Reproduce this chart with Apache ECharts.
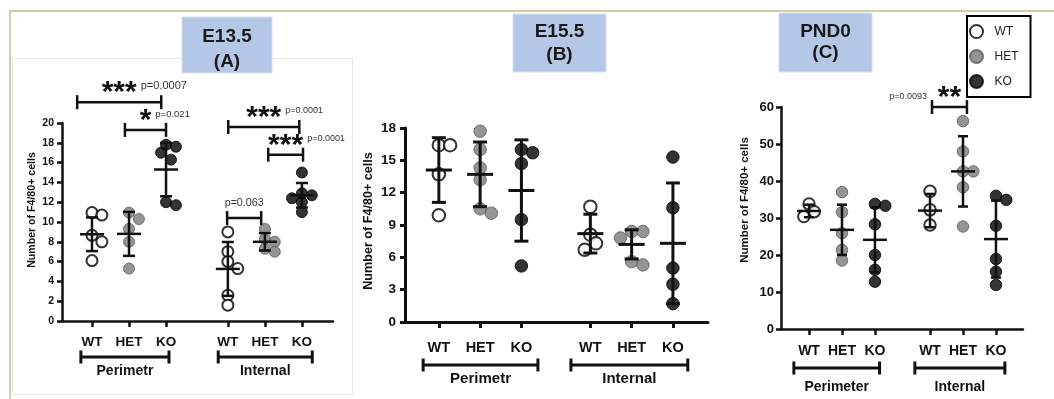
<!DOCTYPE html>
<html>
<head>
<meta charset="utf-8">
<title>F4/80+ cell counts</title>
<script src="https://cdn.jsdelivr.net/npm/echarts@6/dist/echarts.min.js"></script>
<style>
  html, body { margin: 0; padding: 0; background: #fff; }
  #chart { width: 1054px; height: 399px; }
</style>
</head>
<body>
<div id="chart"></div>
<script>
// Column positions: Perimeter WT/HET/KO, then Internal WT/HET/KO
const positions = [1, 2, 3, 4.67, 5.67, 6.67];
const genotypes = ['WT', 'HET', 'KO'];

// ---- E13.5 (A) ----
const e135Values = [
  [10.95, 10.7, 8.65, 8.0, 6.1],
  [10.95, 10.3, 9.3, 8.0, 5.3],
  [17.8, 17.6, 17.0, 16.3, 12.0, 11.7],
  [9.0, 7.0, 6.0, 5.3, 2.6, 1.6],
  [9.3, 8.3, 8.0, 7.3, 7.0],
  [15.0, 12.9, 12.7, 12.4, 12.0, 11.0]
];
const e135Mean = [8.76, 8.8, 15.3, 5.26, 8.0, 12.7];
const e135Sd = [1.7, 2.22, 2.7, 2.72, 0.88, 1.24];
const e135YTicks = [0, 2, 4, 6, 8, 10, 12, 14, 16, 18, 20];
const e135Regions = ['Perimetr', 'Internal'];
const e135RegionSpans = [[0.70, 3.08], [4.41, 6.95]];
const e135Brackets = [[0.6, 2.87, 22.1], [1.89, 3.0, 19.3], [4.68, 6.6, 19.6], [5.76, 6.7, 16.8], [4.65, 5.57, 10.4]];
const e135Stars = ['***', '*', '***', '***', ''];
const e135PValues = ['p=0.0007', 'p=0.021', 'p=0.0001', 'p=0.0001', 'p=0.063'];

// ---- E15.5 (B) ----
const e155Values = [
  [16.4, 16.4, 13.7, 9.9],
  [17.7, 16.0, 14.3, 13.2, 10.5, 10.1],
  [16.0, 15.7, 14.7, 9.5, 5.2],
  [10.7, 8.1, 7.3, 6.7],
  [8.4, 8.4, 7.8, 5.6, 5.3],
  [15.3, 10.6, 5.0, 3.5, 1.7]
];
const e155Mean = [14.1, 13.7, 12.2, 8.2, 7.2, 7.3];
const e155Sd = [3.0, 3.0, 4.7, 1.8, 1.35, 5.6];
const e155YTicks = [0, 3, 6, 9, 12, 15, 18];
const e155Regions = ['Perimetr', 'Internal'];
const e155RegionSpans = [[0.62, 3.40], [4.20, 7.03]];
const e155Brackets = [];
const e155Stars = [];
const e155PValues = [];

// ---- PND0 (C) ----
const pnd0Values = [
  [33.8, 31.7, 30.4],
  [37.0, 31.6, 25.9, 21.4, 18.5],
  [33.8, 33.3, 28.3, 20.0, 16.0, 12.8],
  [37.2, 32.2, 28.1],
  [56.2, 48.0, 42.6, 42.6, 38.3, 27.7],
  [36.0, 34.9, 27.9, 18.9, 15.5, 11.9]
];
const pnd0Mean = [31.9, 26.8, 24.1, 32.0, 42.6, 24.3];
const pnd0Sd = [1.7, 6.8, 8.8, 4.5, 9.5, 10.4];
const pnd0YTicks = [0, 10, 20, 30, 40, 50, 60];
const pnd0Regions = ['Perimeter', 'Internal'];
const pnd0RegionSpans = [[0.54, 3.14], [4.21, 6.94]];
const pnd0Brackets = [[4.73, 5.79, 60]];
const pnd0Stars = ['**'];
const pnd0PValues = ['p=0.0093'];

const FONT = '"Liberation Sans", Arial, Helvetica, sans-serif';
const INK = '#111';

const panels = [
  {
    title: 'E13.5\n(A)', box: [182, 17, 90, 56], titleY: 49.5, titleLH: 25,
    grid: { left: 62, top: 123, width: 271, height: 198 }, xMin: 0.19, xMax: 7.51,
    values: e135Values, mean: e135Mean, sd: e135Sd, yTicks: e135YTicks,
    regions: e135Regions, spans: e135RegionSpans,
    brackets: e135Brackets, stars: e135Stars, pvalues: e135PValues,
    look: { tickFont: 10.5, tickMargin: 8, catFont: 13.5, catMargin: 14, groupFont: 14,
            nameFont: 10.6, nameGap: 24, namePad: 24, sym: 11, lw: 2.5, cap: 6, bar: 12,
            bracketOff: 36, labelOff: 50, pFonts: [11, 9.5, 9, 9, 10.7], pSide: 'right' }
  },
  {
    title: 'E15.5\n(B)', box: [513, 14, 93, 58], titleY: 43.5, titleLH: 23,
    grid: { left: 405, top: 128, width: 303, height: 194 }, xMin: 0.18, xMax: 7.52,
    values: e155Values, mean: e155Mean, sd: e155Sd, yTicks: e155YTicks,
    regions: e155Regions, spans: e155RegionSpans,
    brackets: e155Brackets, stars: e155Stars, pvalues: e155PValues,
    look: { tickFont: 13.5, tickMargin: 9, catFont: 14.5, catMargin: 18, groupFont: 15,
            nameFont: 12.6, nameGap: 30, namePad: 8, sym: 12.5, lw: 3, cap: 7, bar: 13,
            bracketOff: 43, labelOff: 57, pFonts: [], pSide: 'right' }
  },
  {
    title: 'PND0\n(C)', box: [779, 13, 93, 59], titleY: 42.5, titleLH: 21,
    grid: { left: 781, top: 107, width: 242, height: 222 }, xMin: 0.15, xMax: 7.49,
    values: pnd0Values, mean: pnd0Mean, sd: pnd0Sd, yTicks: pnd0YTicks,
    regions: pnd0Regions, spans: pnd0RegionSpans,
    brackets: pnd0Brackets, stars: pnd0Stars, pvalues: pnd0PValues,
    look: { tickFont: 13, tickMargin: 7, catFont: 14, catMargin: 15, groupFont: 14,
            nameFont: 11.5, nameGap: 30, namePad: 36, sym: 11.5, lw: 2.5, cap: 5, bar: 12,
            bracketOff: 39, labelOff: 58, pFonts: [9], pSide: 'left' }
  }
];

const markerStyles = [
  { color: '#ffffff', borderColor: '#000000', borderWidth: 2 },
  { color: '#7a7a7a', borderColor: '#5a5a5a', borderWidth: 1 },
  { color: '#000000', borderColor: '#000000', borderWidth: 1 }
];

// Spread points sideways so overlapping values stay visible (simple beeswarm, pixels)
function swarmOffsets(vals, pxPerY, diam) {
  const order = vals.map((v, i) => i).sort((a, b) => vals[b] - vals[a]);
  const placed = [];
  const out = new Array(vals.length).fill(0);
  const step = diam * 0.45, minDist = diam * 0.78;
  order.forEach(i => {
    const y = vals[i] * pxPerY;
    for (let k = 0; k < 30; k++) {
      const dx = k === 0 ? 0 : (k % 2 ? 1 : -1) * Math.ceil(k / 2) * step;
      if (placed.every(p => Math.hypot(p.x - dx, p.y - y) >= minDist)) {
        out[i] = dx; placed.push({ x: dx, y }); break;
      }
    }
  });
  return out;
}

function seg(x1, y1, x2, y2, lw) {
  return { type: 'line', shape: { x1, y1, x2, y2 }, style: { stroke: INK, lineWidth: lw } };
}

const grids = [], xAxes = [], yAxes = [], series = [], graphics = [];

// page frame and panel outline
graphics.push({ type: 'rect', shape: { x: 10, y: 11, width: 1200, height: 600 },
  style: { fill: null, stroke: '#d2cda2', lineWidth: 2 }, z: 0 });
graphics.push({ type: 'rect', shape: { x: 12.5, y: 58.5, width: 340, height: 336 },
  style: { fill: null, stroke: '#e6e6e6', lineWidth: 1 }, z: 0 });

panels.forEach((p, pi) => {
  const L = p.look;
  grids.push(Object.assign({ containLabel: false }, p.grid));
  const yMin = p.yTicks[0], yMax = p.yTicks[p.yTicks.length - 1];
  const pxPerX = p.grid.width / (p.xMax - p.xMin);
  const pxPerY = p.grid.height / (yMax - yMin);

  xAxes.push({
    gridIndex: pi, type: 'value', min: p.xMin, max: p.xMax,
    axisLine: { show: true, onZero: false, lineStyle: { color: INK, width: L.lw } },
    axisTick: { show: true, customValues: positions, length: 6, lineStyle: { color: INK, width: L.lw } },
    axisLabel: {
      show: true, customValues: positions, margin: L.catMargin,
      fontSize: L.catFont, fontWeight: 'bold', color: INK, fontFamily: FONT,
      formatter: v => {
        let best = 0;
        positions.forEach((q, i) => { if (Math.abs(q - v) < Math.abs(positions[best] - v)) best = i; });
        return genotypes[best % 3];
      }
    },
    splitLine: { show: false }
  });

  yAxes.push({
    gridIndex: pi, type: 'value', min: yMin, max: yMax, interval: p.yTicks[1] - p.yTicks[0],
    axisLine: { show: true, onZero: false, lineStyle: { color: INK, width: L.lw } },
    axisTick: { show: true, length: 5, lineStyle: { color: INK, width: L.lw } },
    axisLabel: { fontSize: L.tickFont, fontWeight: 'bold', color: INK, fontFamily: FONT, margin: L.tickMargin },
    splitLine: { show: false },
    name: 'Number of F4/80+ cells', nameLocation: 'middle', nameGap: L.nameGap,
    nameTextStyle: { fontSize: L.nameFont, fontWeight: 'bold', color: INK, fontFamily: FONT,
                     padding: [0, 0, 0, L.namePad] }
  });

  // individual animals
  genotypes.forEach((g, gi) => {
    const data = [];
    [gi, gi + 3].forEach(col => {
      const vals = p.values[col];
      const offs = swarmOffsets(vals, pxPerY, L.sym);
      vals.forEach((v, j) => data.push([positions[col] + offs[j] / pxPerX, v]));
    });
    series.push({
      type: 'scatter', name: g, xAxisIndex: pi, yAxisIndex: pi,
      symbol: 'circle', symbolSize: L.sym, itemStyle: markerStyles[gi],
      data, z: 2, silent: true
    });
  });

  // mean ± SD
  series.push({
    type: 'custom', xAxisIndex: pi, yAxisIndex: pi, z: 5, silent: true, clip: false,
    encode: { x: 0, y: 1 },
    data: positions.map((x, i) => [x, p.mean[i], p.sd[i]]),
    renderItem: (params, api) => {
      const x = api.value(0), m = api.value(1), s = api.value(2);
      const t = api.coord([x, m + s]), b = api.coord([x, m - s]), c = api.coord([x, m]);
      return { type: 'group', children: [
        seg(t[0], t[1], b[0], b[1], L.lw),
        seg(t[0] - L.cap, t[1], t[0] + L.cap, t[1], L.lw),
        seg(b[0] - L.cap, b[1], b[0] + L.cap, b[1], L.lw),
        seg(c[0] - L.bar, c[1], c[0] + L.bar, c[1], L.lw)
      ] };
    }
  });

  // region brackets under the genotype labels
  series.push({
    type: 'custom', xAxisIndex: pi, yAxisIndex: pi, z: 5, silent: true, clip: false,
    encode: { x: [0, 1], y: 2 },
    data: p.spans.map(s => [s[0], s[1], yMin]),
    renderItem: (params, api) => {
      const l = api.coord([api.value(0), api.value(2)]);
      const r = api.coord([api.value(1), api.value(2)]);
      const y = l[1] + L.bracketOff;
      return { type: 'group', children: [
        seg(l[0], y, r[0], y, 3),
        seg(l[0], y - 6.5, l[0], y + 6.5, 3),
        seg(r[0], y - 6.5, r[0], y + 6.5, 3),
        { type: 'text', x: (l[0] + r[0]) / 2, y: l[1] + L.labelOff,
          style: { text: p.regions[params.dataIndex], fill: INK, align: 'center', verticalAlign: 'middle',
                   font: 'bold ' + L.groupFont + 'px ' + FONT } }
      ] };
    }
  });

  // significance brackets
  if (p.brackets.length) {
    series.push({
      type: 'custom', xAxisIndex: pi, yAxisIndex: pi, z: 6, silent: true, clip: false,
      encode: { x: [0, 1], y: 2 },
      data: p.brackets,
      renderItem: (params, api) => {
        const i = params.dataIndex;
        const l = api.coord([api.value(0), api.value(2)]);
        const r = api.coord([api.value(1), api.value(2)]);
        const y = l[1], mid = (l[0] + r[0]) / 2;
        const stars = p.stars[i], pv = p.pvalues[i];
        const kids = [
          seg(l[0], y, r[0], y, 2.5),
          seg(l[0], y - 7, l[0], y + 7, 2.5),
          seg(r[0], y - 7, r[0], y + 7, 2.5)
        ];
        const pFont = (L.pFonts[i] || 9) + 'px ' + FONT;
        if (stars) {
          const half = stars.length * 30 * 0.39 / 2;
          kids.push({ type: 'text', x: mid, y: y - 9,
            style: { text: stars, fill: INK, align: 'center', verticalAlign: 'middle',
                     font: 'bold 30px ' + FONT } });
          if (L.pSide === 'right') {
            kids.push({ type: 'text', x: mid + half + 4, y: y - 16,
              style: { text: pv, fill: '#333', align: 'left', verticalAlign: 'middle', font: pFont } });
          } else {
            kids.push({ type: 'text', x: l[0] - 5, y: y - 10,
              style: { text: pv, fill: '#333', align: 'right', verticalAlign: 'middle', font: pFont } });
          }
        } else {
          kids.push({ type: 'text', x: mid, y: y - 15,
            style: { text: pv, fill: '#333', align: 'center', verticalAlign: 'middle', font: pFont } });
        }
        return { type: 'group', children: kids };
      }
    });
  }

  // panel heading
  const [bx, by, bw, bh] = p.box;
  graphics.push({
    type: 'group', z: 10, children: [
      { type: 'rect', shape: { x: bx, y: by, width: bw, height: bh },
        style: { fill: '#b4c7e7', stroke: '#d3def1', lineWidth: 1 } },
      { type: 'text', x: bx + bw / 2, y: p.titleY,
        style: { text: p.title, fill: '#1a1a1a', align: 'center', verticalAlign: 'middle',
                 font: 'bold 19px ' + FONT, lineHeight: p.titleLH } }
    ]
  });
});

const chart = echarts.init(document.getElementById('chart'), null, { renderer: 'canvas' });
chart.setOption({
  backgroundColor: '#ffffff',
  animation: false,
  textStyle: { fontFamily: FONT },
  grid: grids,
  xAxis: xAxes,
  yAxis: yAxes,
  legend: {
    data: genotypes, orient: 'vertical', left: 967, top: 16,
    icon: 'circle', itemWidth: 26, itemHeight: 13, itemGap: 10,
    padding: [8, 12, 8, 2], borderColor: '#000', borderWidth: 2,
    textStyle: { fontSize: 12, color: '#222', fontFamily: FONT },
    selectedMode: false
  },
  graphic: graphics,
  series
});
</script>
</body>
</html>
